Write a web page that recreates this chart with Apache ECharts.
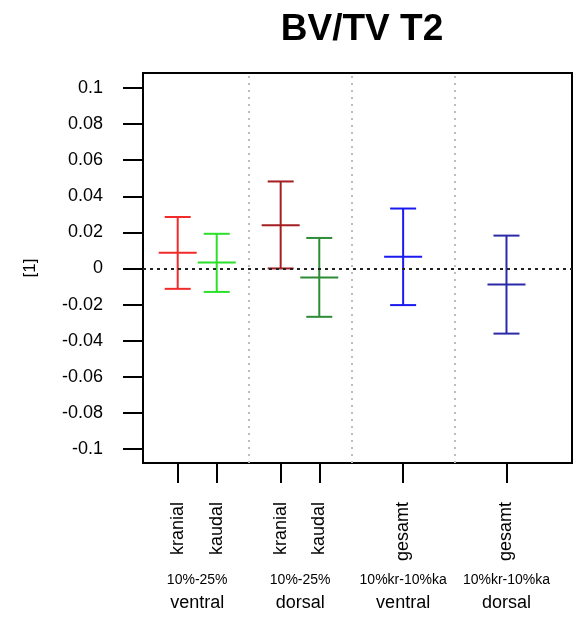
<!DOCTYPE html>
<html>
<head>
<meta charset="utf-8">
<script src="https://cdn.jsdelivr.net/npm/echarts@6/dist/echarts.min.js"></script>
<style>
  html, body { margin: 0; padding: 0; background: #fff; }
  #main { width: 573px; height: 619px; }
</style>
</head>
<body>
<div id="main"></div>
<script>
// data
var categories = ['kranial', 'kaudal', 'kranial', 'kaudal', 'gesamt', 'gesamt'];
var xPos = [0.89, 1.89, 3.53, 4.52, 6.67, 9.32];
var means = [0.0087, 0.0033, 0.0239, -0.0050, 0.0065, -0.0089];
var lower = [-0.0113, -0.0130, 0.0000, -0.0268, -0.0203, -0.0361];
var upper = [0.0285, 0.0192, 0.0482, 0.0169, 0.0332, 0.0182];
var barColors = ['#F22A2A', '#2AE02A', '#A51E22', '#2E8B37', '#1A1AF0', '#2A2AA8'];

var groupPos = [1.39, 4.03, 6.67, 9.32];
var groupRange = ['10%-25%', '10%-25%', '10%kr-10%ka', '10%kr-10%ka'];
var groupSide = ['ventral', 'dorsal', 'ventral', 'dorsal'];
var separators = [2.70, 5.36, 8.0];

var yTicks = [-0.1, -0.08, -0.06, -0.04, -0.02, 0, 0.02, 0.04, 0.06, 0.08, 0.1];

var font = 'Liberation Sans, Arial, sans-serif';

var myChart = echarts.init(document.getElementById('main'));

var seriesData = [];
for (var i = 0; i < xPos.length; i++) {
    seriesData.push([xPos[i], means[i], lower[i], upper[i]]);
}

option = {
    backgroundColor: '#fff',
    animation: false,
    title: {
        text: 'BV/TV T2',
        left: 357,
        textAlign: 'center',
        top: 6,
        textStyle: {
            fontFamily: font,
            fontSize: 37,
            fontWeight: 'bold',
            color: '#000'
        }
    },
    grid: {
        left: 143,
        right: 1,
        top: 73,
        bottom: 156,
        show: true,
        borderColor: '#000',
        borderWidth: 2,
        backgroundColor: 'transparent'
    },
    xAxis: [{
        type: 'value',
        min: 0,
        max: 11,
        position: 'bottom',
        splitLine: { show: false },
        axisLine: { show: false, onZero: false },
        axisTick: {
            show: true,
            customValues: xPos,
            length: 20,
            lineStyle: { color: '#000', width: 2 }
        },
        axisLabel: {
            show: true,
            customValues: xPos,
            rotate: 90,
            margin: 39,
            fontFamily: font,
            fontSize: 18,
            color: '#000',
            formatter: function (v) {
                var k = xPos.indexOf(v);
                return k >= 0 ? categories[k] : '';
            }
        }
    }, {
        type: 'value',
        min: 0,
        max: 11,
        position: 'bottom',
        splitLine: { show: false },
        axisLine: { show: false, onZero: false },
        axisTick: { show: false },
        axisLabel: {
            show: true,
            customValues: groupPos,
            margin: 106,
            color: '#000',
            fontFamily: font,
            formatter: function (v) {
                var k = groupPos.indexOf(v);
                if (k < 0) return '';
                return '{a|' + groupRange[k] + '}\n{b|' + groupSide[k] + '}';
            },
            rich: {
                a: { fontFamily: font, fontSize: 14, lineHeight: 23, color: '#000' },
                b: { fontFamily: font, fontSize: 18, lineHeight: 23, color: '#000' }
            }
        }
    }],
    yAxis: {
        type: 'value',
        min: -0.1078,
        max: 0.1083,
        name: '[1]',
        nameLocation: 'middle',
        nameRotate: 90,
        nameGap: 104,
        nameTextStyle: { fontFamily: font, fontSize: 17, color: '#000' },
        splitLine: { show: false },
        axisLine: { show: false, onZero: false },
        axisTick: {
            show: true,
            customValues: yTicks,
            length: 20,
            lineStyle: { color: '#000', width: 2 }
        },
        axisLabel: {
            customValues: yTicks,
            margin: 40,
            fontFamily: font,
            fontSize: 18,
            color: '#000',
            formatter: function (v) {
                return String(Math.round(v * 100) / 100);
            }
        }
    },
    series: [{
        type: 'custom',
        xAxisIndex: 0,
        data: seriesData,
        clip: false,
        renderItem: function (params, api) {
            var x = api.value(0);
            var mid = api.coord([x, api.value(1)]);
            var lo = api.coord([x, api.value(2)]);
            var hi = api.coord([x, api.value(3)]);
            var style = { stroke: barColors[params.dataIndex], lineWidth: 2 };
            return {
                type: 'group',
                children: [
                    { type: 'line', shape: { x1: lo[0], y1: lo[1], x2: hi[0], y2: hi[1] }, style: style },
                    { type: 'line', shape: { x1: hi[0] - 13, y1: hi[1], x2: hi[0] + 13, y2: hi[1] }, style: style },
                    { type: 'line', shape: { x1: lo[0] - 13, y1: lo[1], x2: lo[0] + 13, y2: lo[1] }, style: style },
                    { type: 'line', shape: { x1: mid[0] - 19, y1: mid[1], x2: mid[0] + 19, y2: mid[1] }, style: style }
                ]
            };
        },
        markLine: {
            silent: true,
            symbol: 'none',
            label: { show: false },
            data: separators.map(function (s) {
                return { xAxis: s, lineStyle: { color: '#BDBDBD', width: 2, type: [2, 5] } };
            }).concat([{ yAxis: 0, lineStyle: { color: '#222', width: 2.2, type: [3, 4] } }])
        },
        z: 3
    }]
};
myChart.setOption(option);
</script>
</body>
</html>
